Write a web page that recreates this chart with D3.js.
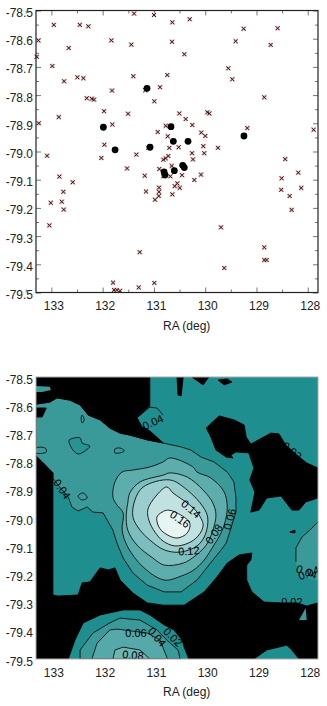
<!DOCTYPE html>
<html>
<head>
<meta charset="utf-8">
<script src="https://cdn.jsdelivr.net/npm/d3@7"></script>
<style>
  html, body { margin: 0; padding: 0; background: #fff; }
  svg { display: block; }
  text { font-family: "Liberation Sans", Arial, sans-serif; fill: #222; }
</style>
</head>
<body>
<div id="chart"></div>
<script>
// sources: [RA, Dec]
const crosses = [
  [132.953,-78.551],[132.446,-78.551],[132.279,-78.556],[131.388,-78.511],[130.998,-78.516],[133.253,-78.606],
  [132.661,-78.633],[131.830,-78.606],[131.441,-78.621],[133.285,-78.664],[132.981,-78.697],[132.752,-78.751],
  [132.493,-78.737],[132.376,-78.740],[131.402,-78.733],[131.817,-78.784],[132.310,-78.811],[132.212,-78.813],
  [132.168,-78.816],[130.881,-78.772],[131.168,-78.783],[130.992,-78.822],[131.973,-78.857],[131.505,-78.866],
  [132.856,-78.878],[133.246,-78.900],[131.811,-78.904],[130.926,-78.931],[131.967,-78.976],[131.343,-79.011],
  [133.084,-79.015],[132.025,-79.023],[131.109,-78.987],[130.641,-78.542],[130.302,-78.531],[129.250,-78.565],
  [128.587,-78.563],[130.647,-78.611],[129.406,-78.609],[128.723,-78.622],[130.407,-78.655],[129.550,-78.705],
  [130.739,-78.729],[129.472,-78.744],[128.848,-78.808],[130.505,-78.865],[129.959,-78.861],[129.920,-78.865],
  [130.380,-78.885],[130.251,-78.906],[130.770,-78.909],[130.076,-78.933],[129.998,-78.945],[129.179,-78.917],
  [127.885,-78.923],[130.731,-78.946],[130.037,-78.981],[129.751,-78.987],[130.700,-78.987],[130.517,-78.985],
  [130.257,-79.006],[130.018,-79.006],[130.719,-79.016],[130.770,-79.024],[130.817,-79.029],[130.238,-79.028],
  [128.439,-79.027],[131.524,-79.060],[132.844,-79.089],[132.583,-79.109],[131.179,-79.086],[130.895,-79.062],
  [130.653,-79.051],[130.817,-79.088],[130.680,-79.088],[130.452,-79.084],[130.082,-79.082],[130.212,-79.101],
  [130.544,-79.113],[130.595,-79.123],[130.497,-79.129],[130.901,-79.128],[130.901,-79.143],[131.154,-79.142],
  [130.641,-79.152],[130.906,-79.158],[130.979,-79.171],[132.766,-79.143],[133.012,-79.182],[132.797,-79.178],
  [132.758,-79.206],[133.039,-79.262],[131.277,-79.357],[131.797,-79.465],[130.992,-79.466],[131.296,-79.482],
  [131.778,-79.491],[131.725,-79.491],[131.661,-79.494],[128.185,-79.075],[128.509,-79.095],[128.517,-79.136],
  [128.127,-79.129],[128.353,-79.158],[128.314,-79.207],[129.692,-79.269],[128.848,-79.340],[128.848,-79.385],
  [128.801,-79.385],[129.628,-79.413]
];
const dots = [
  [131.135,-78.776],[131.986,-78.914],[131.758,-78.994],[131.076,-78.985],[130.667,-78.912],[130.622,-78.964],
  [130.335,-78.964],[129.244,-78.945],[130.803,-79.072],[130.784,-79.083],[130.602,-79.068],[130.439,-79.049],
  [130.407,-79.057]
];

// contour outlines of the lower panel, outer to inner
const band06 = [
  [133.30,-78.596],[133.03,-78.589],[132.89,-78.574],[132.64,-78.582],[132.44,-78.599],[132.28,-78.635],[132.05,-78.652],
  [131.86,-78.681],[131.66,-78.699],[131.47,-78.706],[131.13,-78.723],[130.82,-78.734],[130.47,-78.748],[130.28,-78.759],
  [130.08,-78.784],[129.83,-78.801],[129.57,-78.837],[129.44,-78.872],[129.40,-78.929],[129.40,-78.979],[129.48,-79.025],
  [129.54,-79.060],[129.59,-79.089],[129.69,-79.113],[129.96,-79.174],[130.16,-79.220],[130.47,-79.262],[130.80,-79.262],
  [131.13,-79.238],[131.41,-79.195],[131.60,-79.142],[131.72,-79.089],[131.80,-79.043],[131.89,-79.014],[131.99,-78.982],
  [132.19,-78.979],[132.30,-78.961],[132.48,-78.975],[132.60,-78.961],[132.67,-78.926],[132.87,-78.883],[132.97,-78.858],
  [132.97,-78.840],[133.18,-78.801],[133.30,-78.780]
];
const band08 = [
  [131.76,-78.872],[131.62,-78.837],[131.41,-78.830],[131.08,-78.819],[130.82,-78.801],[130.69,-78.787],[130.24,-78.819],
  [130.16,-78.837],[129.89,-78.858],[129.63,-78.908],[129.57,-78.965],[129.63,-79.025],[129.71,-79.060],[129.83,-79.096],
  [130.02,-79.149],[130.22,-79.184],[130.47,-79.206],[130.80,-79.220],[131.21,-79.174],[131.51,-79.103],[131.62,-79.043],
  [131.60,-78.982],[131.72,-78.954],[131.80,-78.926]
];
const band10 = [
  [131.47,-78.911],[131.27,-78.872],[130.82,-78.848],[130.69,-78.840],[130.35,-78.855],[130.04,-78.901],[129.85,-78.947],
  [129.79,-78.989],[129.85,-79.043],[129.98,-79.096],[130.20,-79.135],[130.43,-79.160],[130.80,-79.167],[131.02,-79.142],
  [131.33,-79.096],[131.51,-79.043],[131.54,-78.989],[131.51,-78.947]
];
const band12 = [
  [131.37,-78.936],[131.21,-78.890],[130.69,-78.865],[130.35,-78.901],[130.04,-78.961],[129.95,-79.0],[130.00,-79.060],
  [130.16,-79.099],[130.49,-79.121],[130.80,-79.113],[131.08,-79.078],[131.27,-79.043],[131.41,-78.996]
];
const band14 = [
  [131.12,-78.972],[131.02,-78.936],[130.75,-78.890],[130.63,-78.911],[130.49,-78.929],[130.30,-78.954],[130.16,-78.979],
  [130.04,-79.025],[130.14,-79.064],[130.33,-79.089],[130.59,-79.099],[130.82,-79.082],[130.98,-79.050],[131.10,-79.007]
];
const band16 = [
  [130.94,-78.996],[130.84,-78.979],[130.73,-78.972],[130.55,-78.982],[130.30,-79.018],[130.35,-79.053],[130.55,-79.071],
  [130.82,-79.050],[130.92,-79.025]
];

// masked (black) areas
const maskTop = [
  [133.30,-78.50],[131.08,-78.50],[131.08,-78.603],[131.21,-78.624],[131.33,-78.645],[131.23,-78.677],[131.08,-78.691],
  [130.82,-78.734],[131.13,-78.723],[131.47,-78.706],[131.66,-78.699],[131.86,-78.681],[132.05,-78.652],[132.28,-78.635],
  [132.44,-78.599],[132.64,-78.582],[132.89,-78.574],[133.03,-78.589],[133.30,-78.596]
];
const maskPatch = [[133.30,-78.610],[133.10,-78.610],[133.18,-78.642],[133.30,-78.642]];
const maskMain = [
  [133.30,-78.780],[133.18,-78.801],[132.97,-78.840],[132.97,-79.273],[132.87,-79.277],[132.48,-79.273],[132.40,-79.230],
  [132.25,-79.227],[132.05,-79.177],[131.89,-79.184],[131.76,-79.177],[131.66,-79.220],[131.41,-79.266],[131.13,-79.301],
  [130.82,-79.309],[130.41,-79.309],[130.02,-79.262],[129.77,-79.209],[129.57,-79.160],[129.34,-79.131],[129.09,-79.124],
  [129.11,-79.149],[129.19,-79.167],[129.19,-79.220],[129.09,-79.262],[128.85,-79.298],[128.52,-79.301],[128.21,-79.301],
  [128.02,-79.312],[127.80,-79.301],[127.80,-79.50],[128.17,-79.50],[128.31,-79.468],[128.41,-79.451],[128.80,-79.468],
  [129.05,-79.50],[130.32,-79.50],[130.41,-79.458],[130.45,-79.433],[130.61,-79.397],[130.80,-79.379],[131.08,-79.344],
  [131.27,-79.326],[131.60,-79.326],[132.05,-79.344],[132.38,-79.372],[132.54,-79.433],[132.67,-79.50],[133.30,-79.50]
];
const maskIsland = [
  [129.98,-78.681],[129.73,-78.638],[129.44,-78.652],[129.24,-78.670],[129.20,-78.713],[129.11,-78.738],[128.72,-78.699],
  [128.56,-78.702],[128.43,-78.741],[128.21,-78.777],[128.02,-78.805],[127.80,-78.823],[127.80,-78.929],[128.04,-78.943],
  [128.17,-78.972],[128.31,-78.972],[128.52,-78.922],[128.80,-78.929],[128.95,-78.972],[129.11,-78.979],[129.03,-78.908],
  [129.13,-78.865],[129.05,-78.823],[129.15,-78.769],[129.40,-78.766],[129.50,-78.777],[129.46,-78.787],[129.59,-78.784],
  [129.79,-78.759],[129.89,-78.713]
];
const maskSlivers = [
  [[130.55,-78.50],[130.43,-78.50],[130.47,-78.567],[130.53,-78.564]],
  [[130.26,-78.50],[129.93,-78.50],[130.04,-78.528]],
  [[129.75,-78.511],[129.57,-78.507],[129.48,-78.518],[129.63,-78.528]],
  [[128.35,-79.050],[128.25,-79.043],[128.25,-79.053]]
];

// smaller closed contours
const hillOuter = [[132.44,-79.50],[132.44,-79.468],[132.19,-79.408],[131.86,-79.372],[131.66,-79.355],[131.27,-79.362],[130.94,-79.397],[130.75,-79.433],[130.53,-79.468],[130.49,-79.50]];
const hillMid = [[132.21,-79.50],[132.11,-79.444],[131.86,-79.397],[131.72,-79.394],[131.13,-79.408],[130.88,-79.433],[130.75,-79.493],[130.73,-79.50]];
const hillInner = [[131.80,-79.50],[131.76,-79.468],[131.60,-79.458],[131.27,-79.468],[131.08,-79.50]];
const tealStrip = [[133.30,-78.532],[133.03,-78.535],[133.01,-78.546],[133.18,-78.553],[133.30,-78.553]];
const tealNotch = [[128.17,-79.362],[128.04,-79.319],[128.02,-79.362]];
const lowerRight = [[127.80,-79.014],[127.96,-79.043],[128.11,-79.067],[128.23,-79.106],[128.23,-79.156],[128.15,-79.209],[127.80,-79.220]];
const lowerRightLine = lowerRight.slice(0, 5);
const darkBlob = [[132.65,-78.723],[132.44,-78.716],[132.40,-78.734],[132.25,-78.745],[132.34,-78.762],[132.48,-78.773],[132.58,-78.759],[132.65,-78.734]];
const smallRings = [
  [[131.76,-78.755],[131.66,-78.752],[131.58,-78.762],[131.66,-78.769],[131.76,-78.769]],
  [[132.40,-78.635],[132.36,-78.652],[132.40,-78.663],[132.42,-78.645]],
  [[133.30,-78.752],[133.12,-78.752],[133.10,-78.766],[133.30,-78.769]],
  [[132.48,-78.922],[132.38,-78.911],[132.30,-78.929],[132.40,-78.936],[132.46,-78.929]]
];
const topLine = [[131.33,-78.645],[131.08,-78.607],[130.94,-78.610],[130.82,-78.635]];

// contour labels: RA, Dec, text, angle
const contourLabels = [
  [132.79,-78.897,"0.04",55],[131.02,-78.660,"0.04",-25],[130.28,-78.968,"0.14",40],[130.49,-79.004,"0.16",35],
  [130.32,-79.117,"0.12",-4],[129.52,-79.004,"0.06",-75],[129.83,-79.057,"0.08",-55],[128.02,-79.191,"0.04",20],
  [127.98,-79.195,"0.04",-20],[128.31,-78.762,"0.02",40],[128.31,-79.300,"0.02",0],[131.35,-79.408,"0.06",0],
  [131.41,-79.486,"0.08",5],[130.94,-79.422,"0.04",50],[130.63,-79.422,"0.02",45]
];

const raTicks = [133, 132, 131, 130, 129, 128];
const raMinor = [133.5, 132.5, 131.5, 130.5, 129.5, 128.5];
const decTicks = [-78.5, -78.6, -78.7, -78.8, -78.9, -79.0, -79.1, -79.2, -79.3, -79.4, -79.5];
const decMinor = [-78.55, -78.65, -78.75, -78.85, -78.95, -79.05, -79.15, -79.25, -79.35, -79.45];

const W = 327, H = 706;
const left = 36, right = 318;

const svg = d3.select("#chart").append("svg").attr("width", W).attr("height", H);

const x = d3.scaleLinear().domain([133.3, 127.8]).range([left, right]);
const yTop = d3.scaleLinear().domain([-78.5, -79.5]).range([10.5, 292.5]);
const yBot = d3.scaleLinear().domain([-78.5, -79.5]).range([377, 659]);

// upper panel axes
function ticks(g, gen, values, size) {
  g.call(gen.tickValues(values).tickSize(size).tickFormat(""));
  g.select(".domain").remove();
  g.selectAll("line").attr("stroke", "#777").attr("stroke-width", 1);
}
const fmtY = d => d.toFixed(1);
const fmtX = d => String(d);

function addLabels(yScale, bottomY) {
  const gy = svg.append("g").attr("transform", `translate(${left},0)`);
  gy.call(d3.axisLeft(yScale).tickValues(decTicks).tickSize(0).tickPadding(3).tickFormat(fmtY));
  gy.select(".domain").remove();
  gy.selectAll("text").attr("dy", "0.5em").style("font-size", "12px");

  const gx = svg.append("g").attr("transform", `translate(0,${bottomY})`);
  gx.call(d3.axisBottom(x).tickValues(raTicks).tickSize(0).tickPadding(9).tickFormat(fmtX));
  gx.select(".domain").remove();
  gx.selectAll("text").attr("x", 2).style("font-size", "12px");

  svg.append("text").attr("x", 163).attr("y", bottomY + 37).style("font-size", "12px").text("RA (deg)");
}

const topY0 = yTop.range()[0], topY1 = yTop.range()[1];
ticks(svg.append("g").attr("transform", `translate(${left},0)`), d3.axisLeft(yTop), decTicks, -5);
ticks(svg.append("g").attr("transform", `translate(${left},0)`), d3.axisLeft(yTop), decMinor, -3);
ticks(svg.append("g").attr("transform", `translate(${right},0)`), d3.axisRight(yTop), decTicks, -5);
ticks(svg.append("g").attr("transform", `translate(${right},0)`), d3.axisRight(yTop), decMinor, -3);
ticks(svg.append("g").attr("transform", `translate(0,${topY1})`), d3.axisBottom(x), raTicks, -5);
ticks(svg.append("g").attr("transform", `translate(0,${topY1})`), d3.axisBottom(x), raMinor, -3);
ticks(svg.append("g").attr("transform", `translate(0,${topY0})`), d3.axisTop(x), raTicks, -5);
ticks(svg.append("g").attr("transform", `translate(0,${topY0})`), d3.axisTop(x), raMinor, -3);

// crosses (pale halo under a dark stroke) then filled dots
const cross = d3.symbol().type(d3.symbolTimes).size(12);
const crossG = svg.append("g");
crossG.selectAll("path.halo").data(crosses).enter().append("path")
  .attr("class", "halo")
  .attr("d", cross)
  .attr("transform", d => `translate(${x(d[0])},${yTop(d[1])})`)
  .attr("fill", "none")
  .attr("stroke", "#dcc4c4")
  .attr("stroke-width", 2.2);
crossG.selectAll("path.mark").data(crosses).enter().append("path")
  .attr("class", "mark")
  .attr("d", cross)
  .attr("transform", d => `translate(${x(d[0])},${yTop(d[1])})`)
  .attr("fill", "none")
  .attr("stroke", "#4e1010")
  .attr("stroke-width", 1);

svg.append("g").selectAll("circle").data(dots).enter().append("circle")
  .attr("cx", d => x(d[0]))
  .attr("cy", d => yTop(d[1]))
  .attr("r", 3.4)
  .attr("fill", "#000");

svg.append("rect")
  .attr("x", left).attr("y", topY0)
  .attr("width", right - left).attr("height", topY1 - topY0)
  .attr("fill", "none").attr("stroke", "#222").attr("stroke-width", 1.2);

addLabels(yTop, topY1);

// lower panel
const botY0 = yBot.range()[0], botY1 = yBot.range()[1];
svg.append("clipPath").attr("id", "panel").append("rect")
  .attr("x", left).attr("y", botY0)
  .attr("width", right - left).attr("height", botY1 - botY0);

const map = svg.append("g").attr("clip-path", "url(#panel)");
const line = d3.line().x(d => x(d[0])).y(d => yBot(d[1]));
const smooth = d3.line().x(d => x(d[0])).y(d => yBot(d[1])).curve(d3.curveCatmullRomClosed.alpha(0.5));
const closed = d => line(d) + "Z";

function shape(points, fill, stroke) {
  map.append("path")
    .attr("d", closed(points))
    .attr("fill", fill)
    .attr("stroke", stroke || "none")
    .attr("stroke-width", 0.9)
    .attr("stroke-linejoin", "round");
}
function ring(points, fill) {
  map.append("path")
    .attr("d", smooth(points))
    .attr("fill", fill)
    .attr("stroke", "#111")
    .attr("stroke-width", 0.9);
}
function openLine(points) {
  map.append("path").attr("d", line(points)).attr("fill", "none").attr("stroke", "#111").attr("stroke-width", 0.9);
}

map.append("rect")
  .attr("x", left).attr("y", botY0)
  .attr("width", right - left).attr("height", botY1 - botY0)
  .attr("fill", "#1f8e8e");

shape(band06, "#3a9a9a", "#111");
ring(band08, "#5dadad");
ring(band10, "#7cbdbd");
ring(band12, "#9acece");
ring(band14, "#c2e2e2");
ring(band16, "#e6f4f4");

shape(lowerRight, "#3a9a9a");
openLine(lowerRightLine);
ring(darkBlob, "#289393");
smallRings.forEach(r => ring(r, "#3a9a9a"));

shape(maskTop, "#000", "#000");
shape(maskPatch, "#000", "#000");
shape(maskMain, "#000", "#000");
shape(maskIsland, "#000", "#000");
maskSlivers.forEach(s => shape(s, "#000", "#000"));
shape(tealStrip, "#3a9a9a");
shape(tealNotch, "#3a9a9a");
openLine(topLine);

shape(hillOuter, "#3a9a9a", "#111");
shape(hillMid, "#55a9a9", "#111");
shape(hillInner, "#6cb6b6", "#111");

map.append("g").selectAll("text").data(contourLabels).enter().append("text")
  .attr("transform", d => `translate(${x(d[0])},${yBot(d[1])}) rotate(${d[3]})`)
  .attr("text-anchor", "middle")
  .attr("dy", "0.35em")
  .style("font-size", "11px")
  .style("fill", "#000")
  .text(d => d[2]);

svg.append("rect")
  .attr("x", left).attr("y", botY0)
  .attr("width", right - left).attr("height", botY1 - botY0)
  .attr("fill", "none").attr("stroke", "#aaa").attr("stroke-width", 1);

addLabels(yBot, botY1);
</script>
</body>
</html>
